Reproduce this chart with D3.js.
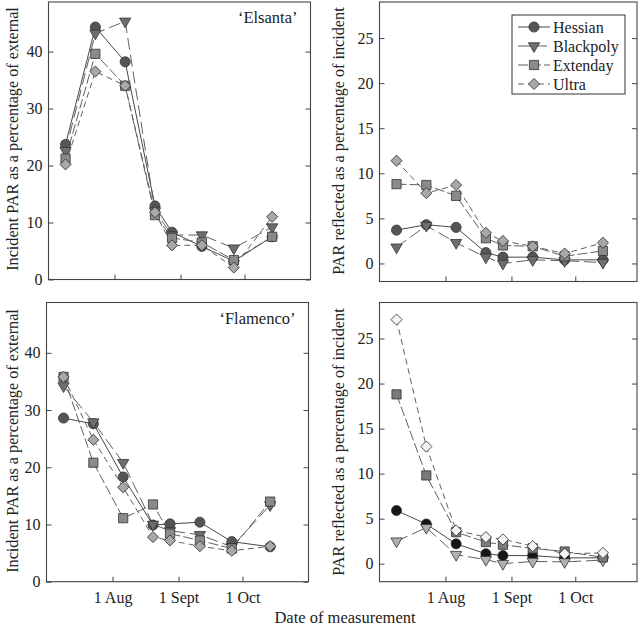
<!DOCTYPE html>
<html lang="en">
<head>
<meta charset="utf-8">
<title>PAR under mulches</title>
<script src="https://cdn.jsdelivr.net/npm/d3@7"></script>
<style>
  body { margin: 0; background: #fff; }
  svg text { font-family: "Liberation Serif", "DejaVu Serif", serif; fill: #222; }
  .axis path { stroke: #444; }
  .axis line { stroke: #444; }
  .axis text { font-size: 16px; font-family: "Liberation Serif", serif; fill: #222; }
</style>
</head>
<body>
<script>
// sampling dates (same for every panel)
var dates = ["2003-07-09", "2003-07-23", "2003-08-06", "2003-08-20", "2003-08-28", "2003-09-11", "2003-09-26", "2003-10-14"];
var seriesNames = ["Hessian", "Blackpoly", "Extenday", "Ultra"];

// values per panel, rows in seriesNames order
var elsantaIncident = [
  [23.7, 44.3, 38.2, 12.9, 8.3, 5.8, 3.2, 7.5],
  [22.6, 43.2, 45.3, 12.0, 7.8, 7.8, 5.5, 9.2],
  [21.2, 39.6, 34.0, 11.3, 7.3, 6.5, 3.4, 7.5],
  [20.2, 36.5, 34.0, 11.8, 6.0, 6.0, 2.1, 11.0]
];
var elsantaReflected = [
  [3.7, 4.3, 4.0, 1.2, 0.7, 0.7, 0.4, 0.4],
  [1.8, 4.2, 2.3, 0.7, 0.0, 0.4, 0.3, 0.1],
  [8.8, 8.7, 7.5, 2.8, 2.0, 1.9, 0.8, 1.4],
  [11.4, 7.8, 8.7, 3.4, 2.5, 1.9, 1.1, 2.3]
];
var flamencoIncident = [
  [28.6, 27.6, 18.3, 9.9, 10.1, 10.4, 7.0, 6.1],
  [34.2, 27.9, 20.8, 10.0, 8.9, 8.2, 6.1, 13.4],
  [35.8, 20.8, 11.1, 13.5, 8.4, 7.2, 5.8, 14.0],
  [35.8, 24.8, 16.5, 7.8, 7.2, 6.2, 5.4, 6.2]
];
var flamencoReflected = [
  [5.9, 4.4, 2.2, 1.1, 0.9, 0.9, 0.65, 0.65],
  [2.5, 4.0, 1.0, 0.45, 0.0, 0.25, 0.2, 0.4],
  [18.8, 9.8, 3.5, 2.4, 2.1, 1.7, 1.35, 0.7],
  [27.1, 13.0, 3.7, 2.95, 2.7, 1.95, 1.1, 1.2]
];

var incidentTicks = [0, 10, 20, 30, 40];
var reflectedTicks = [0, 5, 10, 15, 20, 25];
var monthTicks = ["2003-08-01", "2003-09-01", "2003-10-01"];
var monthLabels = ["1 Aug", "1 Sept", "1 Oct"];

var w = 640, h = 628;
var parseDate = d3.timeParse("%Y-%m-%d");
var xDates = dates.map(parseDate);
var tickDates = monthTicks.map(parseDate);

var svg = d3.select("body").append("svg")
    .attr("width", w)
    .attr("height", h);

var symbols = [d3.symbolCircle, d3.symbolTriangle, d3.symbolSquare, d3.symbolSquare];
var symSizes = [80, 55, 85, 62];
var symRotate = [0, 180, 0, 45];
var dashes = [null, "12,5", "10,3", "6,4"];
var lineColors = ["#484848", "#606060", "#606060", "#606060"];
var greyFills = ["#555", "#6e6e6e", "#8a8a8a", "#a8a8a8"];
var altFills = ["#151515", "#b0b0b0", "#7a7a7a", "#f4f4f4"];

var panels = [
  { data: elsantaIncident, left: 48.5, right: 310.5, top: 2, bottom: 279.5, yDom: [0, 48.7], xEnd: "2003-11-01", ticks: incidentTicks, fills: greyFills, labels: false, name: "\u2018Elsanta\u2019" },
  { data: elsantaReflected, left: 379.5, right: 637, top: 2, bottom: 281.5, yDom: [-2, 29], xEnd: "2003-10-30", ticks: reflectedTicks, fills: greyFills, labels: false, legend: true },
  { data: flamencoIncident, left: 46.5, right: 308.5, top: 302.5, bottom: 581.7, yDom: [0, 48.8], xEnd: "2003-11-01", ticks: incidentTicks, fills: greyFills, labels: true, name: "\u2018Flamenco\u2019" },
  { data: flamencoReflected, left: 379.5, right: 637, top: 302.5, bottom: 581.7, yDom: [-2, 29], xEnd: "2003-10-30", ticks: reflectedTicks, fills: altFills, labels: true }
];

panels.forEach(function(p) {
  var x = d3.scaleTime()
      .domain([parseDate("2003-07-01"), parseDate(p.xEnd)])
      .range([p.left, p.right]);
  var y = d3.scaleLinear()
      .domain(p.yDom)
      .range([p.bottom, p.top]);

  var g = svg.append("g");

  g.append("rect")
      .attr("x", p.left).attr("y", p.top)
      .attr("width", p.right - p.left).attr("height", p.bottom - p.top)
      .attr("fill", "none").attr("stroke", "#444").attr("stroke-width", 1.1);

  g.append("g").attr("class", "axis")
      .attr("transform", "translate(" + p.left + ",0)")
      .call(d3.axisLeft(y).tickValues(p.ticks).tickSize(-5).tickPadding(6).tickFormat(d3.format("d")))
      .call(function(s) { s.select(".domain").remove(); });
  g.append("g").attr("class", "axis")
      .attr("transform", "translate(" + p.right + ",0)")
      .call(d3.axisRight(y).tickValues(p.ticks).tickSize(-5).tickFormat(""))
      .call(function(s) { s.select(".domain").remove(); });
  g.append("g").attr("class", "axis")
      .attr("transform", "translate(0," + p.bottom + ")")
      .call(d3.axisBottom(x).tickValues(tickDates).tickSize(-5).tickPadding(10)
        .tickFormat(function(d, i) { return p.labels ? monthLabels[i] : ""; }))
      .call(function(s) { s.select(".domain").remove(); });

  var line = d3.line()
      .x(function(d, i) { return x(xDates[i]); })
      .y(function(d) { return y(d); });

  p.data.forEach(function(vals, k) {
    g.append("path")
        .attr("d", line(vals))
        .attr("fill", "none")
        .attr("stroke", lineColors[k])
        .attr("stroke-width", 1)
        .attr("stroke-dasharray", dashes[k]);
  });

  p.data.forEach(function(vals, k) {
    g.selectAll(".m" + k)
        .data(vals)
        .enter().append("path")
        .attr("class", "m" + k)
        .attr("d", d3.symbol().type(symbols[k]).size(symSizes[k]))
        .attr("transform", function(d, i) {
          return "translate(" + x(xDates[i]) + "," + y(d) + ") rotate(" + symRotate[k] + ")";
        })
        .attr("fill", p.fills[k])
        .attr("stroke", "#333")
        .attr("stroke-width", 0.8);
  });

  if (p.name) {
    g.append("text")
        .attr("x", p.right - 13)
        .attr("y", p.top + 21)
        .attr("text-anchor", "end")
        .style("font-size", "16.5px")
        .text(p.name);
  }

  if (p.legend) {
    var lx = 512, ly = 15;
    g.append("rect")
        .attr("x", lx).attr("y", ly)
        .attr("width", 113).attr("height", 79)
        .attr("fill", "#fff").attr("stroke", "#333").attr("stroke-width", 1);
    seriesNames.forEach(function(name, k) {
      var yy = ly + 12 + k * 19;
      g.append("line")
          .attr("x1", lx + 6).attr("x2", lx + 38)
          .attr("y1", yy).attr("y2", yy)
          .attr("stroke", lineColors[k]).attr("stroke-width", 1)
          .attr("stroke-dasharray", dashes[k]);
      g.append("path")
          .attr("d", d3.symbol().type(symbols[k]).size(symSizes[k]))
          .attr("transform", "translate(" + (lx + 22) + "," + yy + ") rotate(" + symRotate[k] + ")")
          .attr("fill", greyFills[k]).attr("stroke", "#333").attr("stroke-width", 0.8);
      g.append("text")
          .attr("x", lx + 41)
          .attr("y", yy + 5.5)
          .style("font-size", "16px")
          .text(name);
    });
  }
});

// axis titles
svg.append("text")
    .attr("transform", "translate(18,139) rotate(-90)")
    .attr("text-anchor", "middle").style("font-size", "16.2px")
    .text("Incident PAR as a percentage of external");
svg.append("text")
    .attr("transform", "translate(18,441) rotate(-90)")
    .attr("text-anchor", "middle").style("font-size", "16.2px")
    .text("Incident PAR as a percentage of external");
svg.append("text")
    .attr("transform", "translate(344,141) rotate(-90)")
    .attr("text-anchor", "middle").style("font-size", "16.2px")
    .text("PAR reflected as a percentage of incident");
svg.append("text")
    .attr("transform", "translate(344,442) rotate(-90)")
    .attr("text-anchor", "middle").style("font-size", "16.2px")
    .text("PAR reflected as a percentage of incident");
svg.append("text")
    .attr("x", 345).attr("y", 623)
    .attr("text-anchor", "middle").style("font-size", "16.5px")
    .text("Date of measurement");
</script>
</body>
</html>
